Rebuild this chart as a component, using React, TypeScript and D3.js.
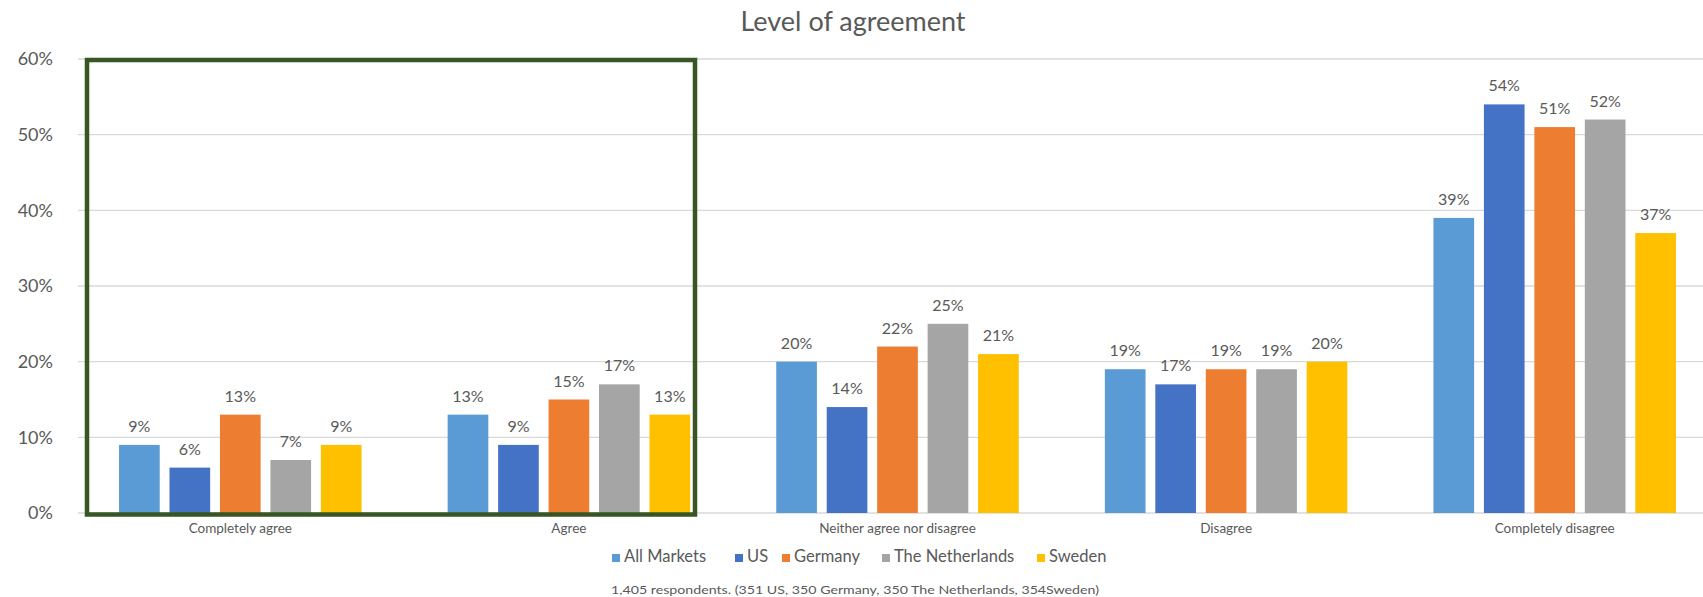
import React from "react";
import * as d3 from "d3";

const categories = ["Completely agree", "Agree", "Neither agree nor disagree", "Disagree", "Completely disagree"];
const series = ["All Markets", "US", "Germany", "The Netherlands", "Sweden"];
const allMarkets = [9, 13, 20, 19, 39];
const us = [6, 9, 14, 17, 54];
const germany = [13, 15, 22, 19, 51];
const netherlands = [7, 17, 25, 19, 52];
const sweden = [9, 13, 21, 20, 37];
const yTicks = [0, 10, 20, 30, 40, 50, 60];
const seriesValues = [allMarkets, us, germany, netherlands, sweden];
const colors = ["#5B9BD5", "#4472C4", "#ED7D31", "#A5A5A5", "#FFC000"];
const title = "Level of agreement";
const footnote = "1,405 respondents. (351 US, 350 Germany, 350 The Netherlands, 354Sweden)";

const W = 1703;
const H = 597;
const FONT = "Lato, 'Open Sans', sans-serif";
const TXT = "#595959";
const legendX = [612, 735, 782, 882, 1037];

export default function App() {
  const y = d3.scaleLinear().domain([0, 60]).range([513, 59]);
  const x0 = d3.scaleBand<string>().domain(categories).range([76, 1719]).paddingInner(0.262).paddingOuter(0.131);
  const x1 = d3.scaleBand<string>().domain(series).range([0, x0.bandwidth()]).paddingInner(0.194).paddingOuter(0);
  const gridX1 = 78;
  const gridX2 = W;
  const boxLeft = 87;
  const boxRight = 695;
  const boxTop = 60;
  const boxBottom = 514.5;
  return (
    <svg width={W} height={H} style={{ position: "absolute", left: 0, top: 0, background: "#fff" }} fontFamily={FONT}>
      <text x={853} y={31} textAnchor="middle" fontSize={27} fill={TXT}>{title}</text>
      {yTicks.map((t) => (
        <g key={t}>
          <line x1={gridX1} x2={gridX2} y1={y(t)} y2={y(t)} stroke="#d9d9d9" strokeWidth={1.3} />
          <text x={53} y={y(t)} dy="0.35em" textAnchor="end" fontSize={18} fill={TXT}>{t}%</text>
        </g>
      ))}
      {categories.map((c, ci) => (
        <g key={c} transform={`translate(${x0(c)},0)`}>
          {series.map((s, si) => {
            const v = seriesValues[si][ci];
            return (
              <g key={s}>
                <rect x={x1(s)} y={y(v)} width={x1.bandwidth()} height={y(0) - y(v)} fill={colors[si]} />
                <text x={(x1(s) as number) + x1.bandwidth() / 2} y={y(v) - 13} textAnchor="middle" fontSize={16} fill={TXT}>{v}%</text>
              </g>
            );
          })}
          <text x={x0.bandwidth() / 2} y={533} textAnchor="middle" fontSize={13.5} fill={TXT}>{c}</text>
        </g>
      ))}
      <rect x={boxLeft} y={boxTop} width={boxRight - boxLeft} height={boxBottom - boxTop} fill="none" stroke="#375623" strokeWidth={4.5} />
      {series.map((s, si) => (
        <g key={s} transform={`translate(${legendX[si]},562)`}>
          <rect x={0} y={-8} width={8} height={8} fill={colors[si]} />
          <text x={12} y={0} fontSize={16.5} fill={TXT}>{s}</text>
        </g>
      ))}
      <text x={611} y={594} fontSize={12} fill={TXT} textLength={488} lengthAdjust="spacingAndGlyphs">{footnote}</text>
    </svg>
  );
}
